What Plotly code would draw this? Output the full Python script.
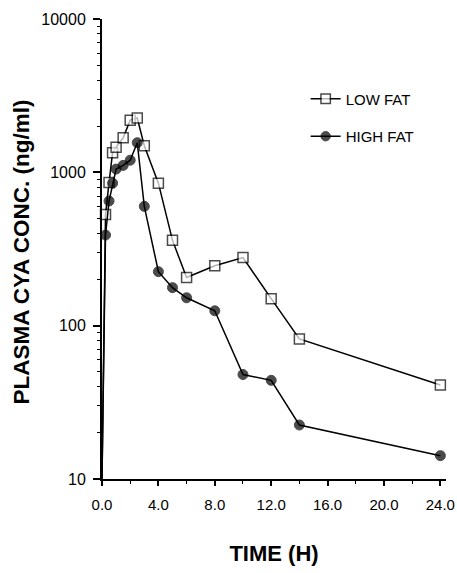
import plotly.graph_objects as go

# Data
time_h = [0, 0.25, 0.5, 0.75, 1.0, 1.5, 2.0, 2.5, 3.0, 4.0, 5.0, 6.0, 8.0, 10.0, 12.0, 14.0, 24.0]
low_fat = [10, 530, 860, 1340, 1460, 1680, 2190, 2260, 1490, 850, 360, 206, 246, 278, 150, 82, 41]
high_fat = [10, 390, 650, 850, 1050, 1110, 1200, 1560, 600, 225, 177, 152, 125, 48, 44, 22.5, 14.2]

x_tick_vals = [0, 4, 8, 12, 16, 20, 24]
x_tick_text = ["0.0", "4.0", "8.0", "12.0", "16.0", "20.0", "24.0"]
y_tick_vals = [10, 100, 1000, 10000]
y_tick_text = ["10", "100", "1000", "10000"]

# first point (t=0) is the baseline: no marker drawn there
sizes = [0] + [10] * (len(time_h) - 1)

fig = go.Figure()
fig.add_trace(go.Scatter(
    x=time_h, y=low_fat, name="LOW FAT", mode="lines+markers",
    line=dict(color="black", width=1.5),
    marker=dict(symbol="square", size=sizes, color="white",
                line=dict(color="black", width=1.5)),
    legendgroup="a", cliponaxis=False,
))
fig.add_trace(go.Scatter(
    x=time_h, y=high_fat, name="HIGH FAT", mode="lines+markers",
    line=dict(color="black", width=1.5),
    marker=dict(symbol="circle", size=sizes, color="black",
                line=dict(color="black", width=1)),
    legendgroup="b", cliponaxis=False,
))

font_fam = "Liberation Sans, Arial, Helvetica, sans-serif"

fig.update_layout(
    width=457, height=573,
    margin=dict(l=102, r=11, t=19, b=94, autoexpand=False),
    paper_bgcolor="white", plot_bgcolor="white",
    font=dict(family=font_fam, color="black", size=16),
    showlegend=True,
    legend=dict(
        x=0.592, y=0.862, xanchor="left", yanchor="top",
        font=dict(size=15, family=font_fam, color="black"),
        tracegroupgap=15, bgcolor="rgba(0,0,0,0)",
        itemwidth=30,
    ),
    xaxis=dict(
        range=[0, 24.4], showgrid=False, zeroline=False,
        showline=True, linecolor="black", linewidth=2,
        tickmode="array", tickvals=x_tick_vals, ticktext=x_tick_text,
        ticks="outside", ticklen=5, tickwidth=1.5, tickcolor="black",
        minor=dict(dtick=2, ticks="outside", ticklen=3, tickcolor="black", tickwidth=1),
        tickfont=dict(size=15), ticklabelstandoff=6,
        title=dict(text="<b>TIME (H)</b>", font=dict(size=22), standoff=34),
        automargin=False,
    ),
    yaxis=dict(
        type="log", range=[1, 4], showgrid=False, zeroline=False,
        showline=True, linecolor="black", linewidth=2,
        tickmode="array", tickvals=y_tick_vals, ticktext=y_tick_text,
        ticks="outside", ticklen=7, tickwidth=1.5, tickcolor="black",
        minor=dict(dtick="D1", ticks="outside", ticklen=3, tickcolor="black", tickwidth=1),
        tickfont=dict(size=16), ticklabelstandoff=4,
        automargin=False,
    ),
    annotations=[dict(
        text="<b>PLASMA CYA CONC. (ng/ml)</b>", textangle=-90,
        xref="paper", yref="paper", x=-0.233, y=0.494,
        xanchor="center", yanchor="middle", showarrow=False,
        font=dict(size=22.5, family=font_fam, color="black"),
    )],
)

# remove the browser's default 8px page margin so the figure fills the window
fig.write_html(
    "out.html",
    config={"displayModeBar": False},
    post_script="document.body.style.margin='0';document.body.style.overflow='hidden';",
)
